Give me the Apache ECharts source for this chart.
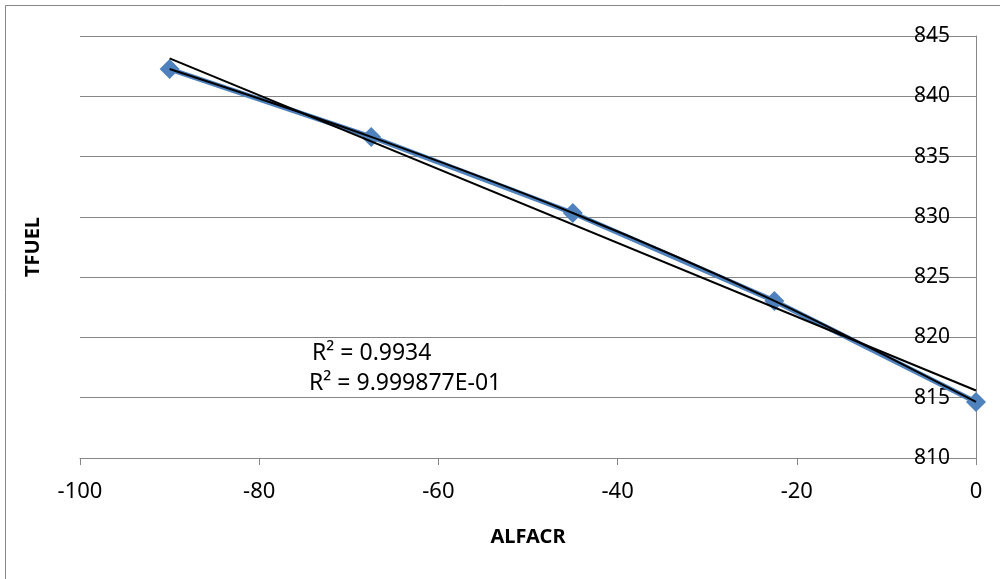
<!DOCTYPE html>
<html>
<head>
<meta charset="utf-8">
<script src="https://cdn.jsdelivr.net/npm/echarts@6/dist/echarts.min.js"></script>
<style>
  html, body { margin: 0; padding: 0; background: #fff; }
  #main { width: 1000px; height: 579px; }
</style>
</head>
<body>
<div id="main"></div>
<script>
var chartDom = document.getElementById('main');
var myChart = echarts.init(chartDom);
var option;

// ALFACR vs TFUEL
var alfacr = [-90, -67.5, -45, -22.5, 0];
var tfuel = [842.26, 836.63, 830.32, 823.03, 814.65];

// linear trendline end points
var trendX = [-90, 0];
var trendY = [843.15, 815.6];

var r2Labels = ['R\u00b2 = 0.9934', 'R\u00b2 = 9.999877E-01'];

var fontFam = "'Noto Sans', sans-serif";

function pairs(xs, ys) {
    return xs.map(function (x, i) { return [x, ys[i]]; });
}

option = {
    animation: false,
    grid: {
        left: 80,
        right: 24,
        top: 36,
        bottom: 121
    },
    xAxis: {
        type: 'value',
        min: -100,
        max: 0,
        interval: 20,
        name: 'ALFACR',
        nameLocation: 'middle',
        nameGap: 69,
        nameTextStyle: { fontFamily: fontFam, fontSize: 20, fontWeight: 'bold', color: '#000' },
        axisLine: { show: true, onZero: false, lineStyle: { color: '#878787', width: 1 } },
        axisTick: { show: true, length: 7, lineStyle: { color: '#878787' } },
        axisLabel: { fontFamily: fontFam, fontSize: 22, color: '#000', margin: 23 },
        splitLine: { show: false }
    },
    yAxis: {
        type: 'value',
        position: 'right',
        min: 810,
        max: 845,
        interval: 5,
        axisLine: { show: true, lineStyle: { color: '#878787', width: 1 } },
        axisTick: { show: false },
        axisLabel: { inside: true, fontFamily: fontFam, fontSize: 21, color: '#000', margin: 26 },
        splitLine: { show: true, lineStyle: { color: '#878787', width: 1 } }
    },
    graphic: [
        {
            type: 'rect',
            shape: { x: 5.5, y: 5.5, width: 1000, height: 600 },
            style: { fill: 'none', stroke: '#878787', lineWidth: 1 },
            silent: true
        },
        {
            type: 'text',
            x: 33,
            y: 247,
            rotation: Math.PI / 2,
            style: { text: 'TFUEL', font: 'bold 20px ' + fontFam, fill: '#000', align: 'center', verticalAlign: 'middle' }
        },
        {
            type: 'text',
            x: 312,
            y: 353,
            style: { text: r2Labels[0], font: '23px ' + fontFam, fill: '#000', verticalAlign: 'middle' }
        },
        {
            type: 'text',
            x: 309,
            y: 383,
            style: { text: r2Labels[1], font: '23px ' + fontFam, fill: '#000', verticalAlign: 'middle' }
        }
    ],
    series: [
        {
            type: 'line',
            data: pairs(alfacr, tfuel),
            symbol: 'diamond',
            symbolSize: 20,
            itemStyle: { color: '#4F81BD' },
            lineStyle: { color: '#4F81BD', width: 5 },
            z: 2
        },
        {
            // polynomial trendline, lies on the data
            type: 'line',
            data: pairs(alfacr, tfuel),
            smooth: 0.3,
            showSymbol: false,
            lineStyle: { color: '#000', width: 2 },
            z: 3
        },
        {
            // linear trendline
            type: 'line',
            data: pairs(trendX, trendY),
            showSymbol: false,
            lineStyle: { color: '#000', width: 2 },
            z: 3
        }
    ]
};

option && myChart.setOption(option);
</script>
</body>
</html>
